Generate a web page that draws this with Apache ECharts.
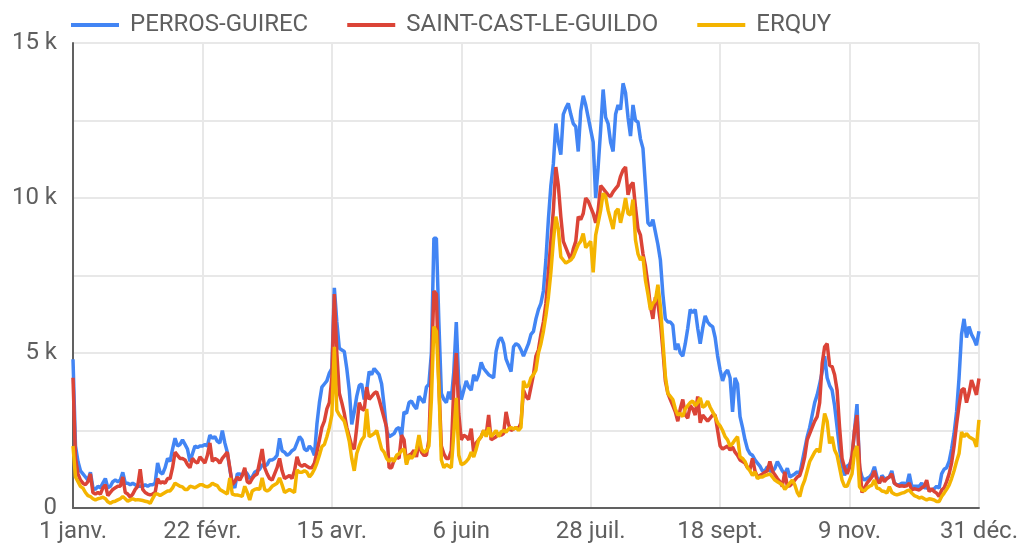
<!DOCTYPE html>
<html lang="fr">
<head>
    <meta charset="UTF-8">
    <title>Fréquentation</title>
    <script src="https://cdn.jsdelivr.net/npm/echarts@6/dist/echarts.min.js"></script>
    <style>
        html, body { margin: 0; padding: 0; background: #fff; }
    </style>
</head>
<body>
    <div id="main" style="width: 1021px;height:548px;"></div>
    <script type="text/javascript">
        // jours de l'annee (annee non bissextile)
        var mois = ['janv.', 'févr.', 'mars', 'avr.', 'mai', 'juin', 'juil.', 'août', 'sept.', 'oct.', 'nov.', 'déc.'];
        var joursParMois = [31, 28, 31, 30, 31, 30, 31, 31, 30, 31, 30, 31];
        var jours = [];
        for (var m = 0; m < mois.length; m++) {
            for (var j = 1; j <= joursParMois[m]; j++) {
                jours.push(j + ' ' + mois[m]);
            }
        }

        // valeurs en milliers
        var perros = [
            4.8,2.0,1.5,1.2,1.1,1.0,0.9,1.15,0.65,0.6,
            0.7,0.65,0.8,0.95,0.65,0.7,0.85,0.9,0.85,0.9,
            1.15,0.8,0.8,0.75,0.8,0.75,0.7,0.7,0.7,0.75,
            0.7,0.75,0.75,0.8,1.45,1.15,1.1,1.3,1.6,1.5,
            1.9,2.25,2.0,2.05,2.2,2.05,1.9,1.5,1.75,2.0,
            1.95,2.0,2.0,2.05,2.0,2.35,2.25,2.3,2.15,2.1,
            2.5,2.1,1.8,1.25,0.8,0.65,1.1,1.1,1.05,1.2,
            1.1,0.95,1.0,1.15,1.2,1.25,1.4,1.35,1.4,1.55,
            1.55,1.6,1.7,2.25,1.85,1.8,1.7,1.75,1.85,1.9,
            2.1,2.3,2.2,1.9,1.85,2.0,1.9,1.7,2.7,3.4,
            3.9,4.0,4.1,4.35,4.5,7.1,6.0,5.15,5.1,5.05,
            4.5,3.8,2.7,3.1,3.6,3.95,4.0,3.5,3.8,4.4,
            4.3,4.5,4.4,4.3,4.0,3.3,2.5,2.3,2.35,2.4,
            2.55,2.6,2.3,3.1,3.05,3.4,3.45,3.3,3.2,3.6,
            3.5,3.4,3.9,4.0,5.0,8.7,8.7,6.0,3.7,3.5,
            3.4,3.75,3.5,4.4,6.0,4.0,3.5,3.8,4.1,3.9,
            3.8,4.3,4.1,4.3,4.7,4.5,4.4,4.3,4.25,4.2,
            5.05,5.4,5.5,5.3,4.8,4.6,4.4,5.2,5.3,5.25,
            5.1,4.9,5.1,5.3,5.6,5.7,6.1,6.4,6.6,7.0,
            8.0,9.3,10.4,11.1,12.4,11.8,11.4,12.7,12.9,13.05,
            12.7,12.4,12.3,11.5,12.8,13.3,13.0,12.6,12.2,11.8,
            10.0,11.0,12.2,13.5,12.6,12.4,11.8,11.5,12.7,13.0,
            12.85,13.7,13.4,12.6,12.0,13.0,12.5,12.45,11.9,11.6,
            10.4,9.2,9.1,9.3,8.9,8.5,8.0,6.9,6.1,6.0,
            6.0,5.9,5.1,5.3,5.0,4.9,5.3,5.8,6.4,6.3,
            6.4,5.8,5.3,5.8,6.2,6.0,5.9,5.85,5.5,4.9,
            4.45,4.1,4.35,4.45,4.2,3.1,4.2,4.0,2.95,2.6,
            2.2,1.9,1.75,1.7,1.55,1.45,1.35,1.2,1.2,1.33,
            1.2,1.17,1.28,1.5,1.35,1.2,1.1,1.28,1.0,1.05,
            1.1,1.17,1.1,1.5,1.9,2.3,2.6,3.0,3.4,3.65,
            4.0,4.4,4.9,4.2,3.95,3.8,3.3,2.6,1.9,1.4,
            1.05,1.35,1.4,1.6,2.5,3.35,1.3,1.0,0.9,0.95,
            1.0,1.1,1.33,1.0,0.8,1.05,0.95,0.95,1.0,1.2,
            0.8,0.75,0.75,0.8,0.8,0.75,1.1,0.7,0.7,0.7,
            0.7,0.8,0.65,0.65,0.6,0.58,0.62,0.7,0.64,1.1,
            1.25,1.3,1.5,1.9,2.4,3.1,4.2,5.6,6.1,5.5,
            5.85,5.6,5.45,5.25,5.7
        ];
        var saintCast = [
            4.2,1.6,1.1,0.9,0.8,0.75,0.85,1.1,0.5,0.45,
            0.5,0.45,0.65,0.75,0.4,0.5,0.6,0.65,0.7,0.7,
            1.0,0.5,0.45,0.35,0.45,0.6,0.7,1.25,0.6,0.5,
            0.45,0.42,0.45,0.5,0.95,0.8,0.85,0.8,0.95,0.95,
            1.3,1.8,1.7,1.6,1.6,1.55,1.4,1.3,1.6,1.5,
            1.45,1.65,1.55,1.45,1.7,2.1,1.5,1.6,1.55,1.45,
            1.6,1.7,1.8,1.3,0.75,0.85,1.0,0.9,1.05,1.3,
            0.85,0.8,0.95,1.05,1.1,1.5,1.9,1.3,1.1,0.95,
            0.9,1.1,1.3,1.6,1.2,0.95,1.0,1.05,0.95,1.2,
            1.65,1.4,1.35,1.4,1.35,1.3,1.3,1.45,1.8,2.2,
            2.6,2.8,3.2,3.4,4.2,6.9,5.0,3.7,3.4,3.05,
            2.6,2.3,2.0,1.9,2.6,3.4,3.2,3.15,3.9,3.5,
            3.6,3.7,3.75,3.5,3.2,2.9,2.6,1.3,1.3,1.55,
            1.65,1.6,2.35,2.2,1.45,1.7,1.75,1.86,1.65,2.13,
            1.8,1.7,1.7,2.2,4.5,7.0,6.9,4.0,2.0,1.75,
            1.6,1.6,1.85,3.9,5.0,3.05,2.2,2.35,2.3,2.2,
            2.56,1.77,2.1,2.2,2.3,2.5,2.35,3.0,2.2,2.25,
            2.3,2.4,2.35,2.4,3.1,2.7,2.5,2.55,2.6,2.55,
            2.75,3.8,3.6,3.5,3.9,4.3,4.9,5.1,5.6,6.0,
            6.6,7.6,8.6,9.6,11.0,10.4,9.4,8.6,8.4,8.2,
            8.0,8.35,8.6,9.4,9.3,9.5,10.0,9.9,9.7,9.5,
            9.2,9.6,10.4,10.3,10.2,10.1,10.05,10.2,10.3,10.4,
            10.7,10.9,11.0,10.1,10.4,10.5,9.7,9.0,8.8,8.2,
            7.8,7.2,6.5,6.1,6.8,6.6,6.0,5.1,4.1,3.7,
            3.5,3.3,3.1,2.8,3.2,3.5,3.0,2.9,3.3,3.2,
            3.0,3.6,2.75,3.0,2.9,2.8,2.9,3.0,3.0,2.5,
            2.0,1.9,1.95,2.0,1.87,1.97,1.8,1.7,1.55,1.5,
            1.45,1.3,1.25,1.6,1.2,1.0,1.05,1.1,1.15,1.2,
            1.5,1.2,1.07,0.95,0.85,0.7,1.17,0.7,0.72,0.8,
            0.9,1.0,1.05,1.3,1.65,2.2,2.4,2.6,2.8,2.95,
            3.4,4.66,5.2,5.3,4.6,4.56,4.3,3.8,2.6,1.6,
            1.3,1.1,1.3,1.7,2.5,3.0,1.45,0.5,0.64,0.8,
            0.9,1.0,1.2,0.9,0.8,1.0,0.85,0.95,1.0,1.1,
            0.8,0.74,0.7,0.72,0.7,0.72,0.8,0.58,0.62,0.6,
            0.58,0.65,0.7,0.9,0.53,0.62,0.53,0.48,0.37,0.58,
            0.65,0.85,1.1,1.45,2.0,2.7,3.3,3.8,3.86,3.4,
            3.7,4.13,3.9,3.65,4.18
        ];
        var erquy = [
            2.0,1.0,0.85,0.7,0.64,0.5,0.4,0.37,0.3,0.26,
            0.3,0.32,0.35,0.3,0.2,0.15,0.2,0.22,0.26,0.3,
            0.37,0.3,0.22,0.26,0.3,0.26,0.27,0.26,0.24,0.22,
            0.2,0.15,0.3,0.45,0.45,0.4,0.45,0.5,0.55,0.55,
            0.65,0.8,0.75,0.7,0.68,0.6,0.6,0.7,0.68,0.65,
            0.7,0.75,0.75,0.7,0.68,0.72,0.8,0.75,0.72,0.6,
            0.55,0.5,0.45,0.97,0.45,0.42,0.42,0.4,0.38,0.7,
            0.5,0.26,0.55,0.6,0.62,0.6,0.97,0.6,0.55,0.6,
            0.7,0.75,0.8,0.97,0.75,0.5,0.55,0.6,0.55,0.5,
            1.23,1.15,1.15,1.2,1.15,1.0,1.1,1.25,1.45,1.7,
            1.98,2.05,2.3,2.6,3.0,5.2,3.15,3.0,2.9,2.8,
            2.5,2.15,1.6,1.2,1.76,2.0,2.2,2.3,3.2,2.3,
            2.35,2.4,2.5,2.2,1.9,1.8,1.6,1.5,1.6,1.5,
            1.7,1.75,1.85,1.9,1.4,1.7,1.6,1.7,1.9,2.35,
            1.9,1.8,1.85,2.0,3.5,5.85,5.7,3.9,1.55,1.3,
            1.4,1.35,1.3,2.4,3.55,1.7,1.4,1.43,1.5,1.6,
            1.8,1.65,1.9,2.2,2.3,2.5,2.3,2.6,2.3,2.4,
            2.5,2.3,2.45,2.5,2.45,2.55,2.6,2.55,2.6,2.5,
            2.6,4.1,3.9,3.95,4.2,4.3,4.45,5.0,5.3,5.7,
            6.2,6.8,7.6,8.6,9.4,9.0,8.1,8.0,7.9,7.95,
            8.0,8.1,8.3,8.5,8.6,8.85,8.4,8.5,8.6,7.6,
            8.8,9.2,9.6,10.15,10.05,9.6,9.3,9.0,9.55,9.65,
            9.2,9.55,10.0,9.5,9.45,9.95,8.65,8.2,8.0,8.1,
            7.35,6.9,6.4,6.6,6.7,7.2,6.5,5.4,4.25,3.7,
            3.6,3.5,3.2,3.0,3.05,2.95,3.2,3.3,3.4,3.45,
            3.3,3.4,3.55,3.25,3.3,3.45,3.25,3.1,2.95,2.75,
            2.65,2.5,2.3,2.2,2.0,2.08,2.2,2.3,1.65,1.6,
            1.5,1.3,1.2,1.05,1.17,0.95,1.0,1.0,1.05,1.07,
            1.1,1.0,0.9,0.85,0.8,0.75,0.6,0.7,0.8,0.9,
            0.75,0.5,0.37,0.7,0.9,1.2,1.5,1.65,1.8,1.9,
            1.8,2.45,3.05,2.8,2.08,2.3,1.87,1.7,1.3,0.9,
            0.7,0.7,0.9,1.1,1.8,2.0,0.69,0.58,0.55,0.64,
            0.7,0.74,0.9,0.64,0.62,0.55,0.53,0.48,0.69,0.5,
            0.45,0.42,0.45,0.48,0.5,0.55,0.58,0.48,0.4,0.37,
            0.32,0.35,0.3,0.26,0.3,0.28,0.26,0.21,0.21,0.37,
            0.48,0.6,0.74,0.95,1.2,1.5,1.76,2.45,2.3,2.4,
            2.3,2.25,2.2,1.97,2.84
        ];

        var texte = '#5f5f5f';
        var grille = '#e8e8e8';
        var axe = '#616161';

        var myChart = echarts.init(document.getElementById('main'));

        var option = {
            animation: false,
            textStyle: { fontFamily: 'Roboto' },
            color: ['#4285f4', '#db4437', '#f4b400'],
            legend: {
                left: 71,
                top: 13,
                padding: 0,
                icon: 'rect',
                itemWidth: 48,
                itemHeight: 4,
                itemGap: 39,
                textStyle: {
                    fontFamily: 'Roboto',
                    fontSize: 24,
                    color: texte,
                    padding: [0, 0, 0, 6]
                }
            },
            grid: {
                left: 73,
                right: 39,
                top: 43,
                bottom: 40,
                containLabel: false
            },
            xAxis: {
                type: 'category',
                data: jours,
                boundaryGap: false,
                axisLine: { lineStyle: { color: axe, width: 2 } },
                axisTick: { show: false },
                axisLabel: {
                    interval: 51,
                    fontFamily: 'Roboto',
                    fontSize: 24,
                    color: texte,
                    margin: 12
                },
                splitLine: {
                    show: true,
                    interval: 51,
                    lineStyle: { color: grille, width: 2 }
                }
            },
            yAxis: {
                type: 'value',
                min: 0,
                max: 15,
                interval: 2.5,
                axisLine: { show: true, lineStyle: { color: axe, width: 2 } },
                axisTick: { show: false },
                axisLabel: {
                    fontFamily: 'Roboto',
                    fontSize: 24,
                    color: texte,
                    margin: 16,
                    formatter: function (v) {
                        if (v === 0) return '0';
                        return v % 5 === 0 ? v + ' k' : '';
                    }
                },
                splitLine: { lineStyle: { color: grille, width: 2 } }
            },
            series: [
                { name: 'PERROS-GUIREC', type: 'line', data: perros, showSymbol: false, lineStyle: { width: 3.5 } },
                { name: 'SAINT-CAST-LE-GUILDO', type: 'line', data: saintCast, showSymbol: false, lineStyle: { width: 3.5 } },
                { name: 'ERQUY', type: 'line', data: erquy, showSymbol: false, lineStyle: { width: 3.5 } }
            ]
        };

        myChart.setOption(option);
    </script>
</body>
</html>
